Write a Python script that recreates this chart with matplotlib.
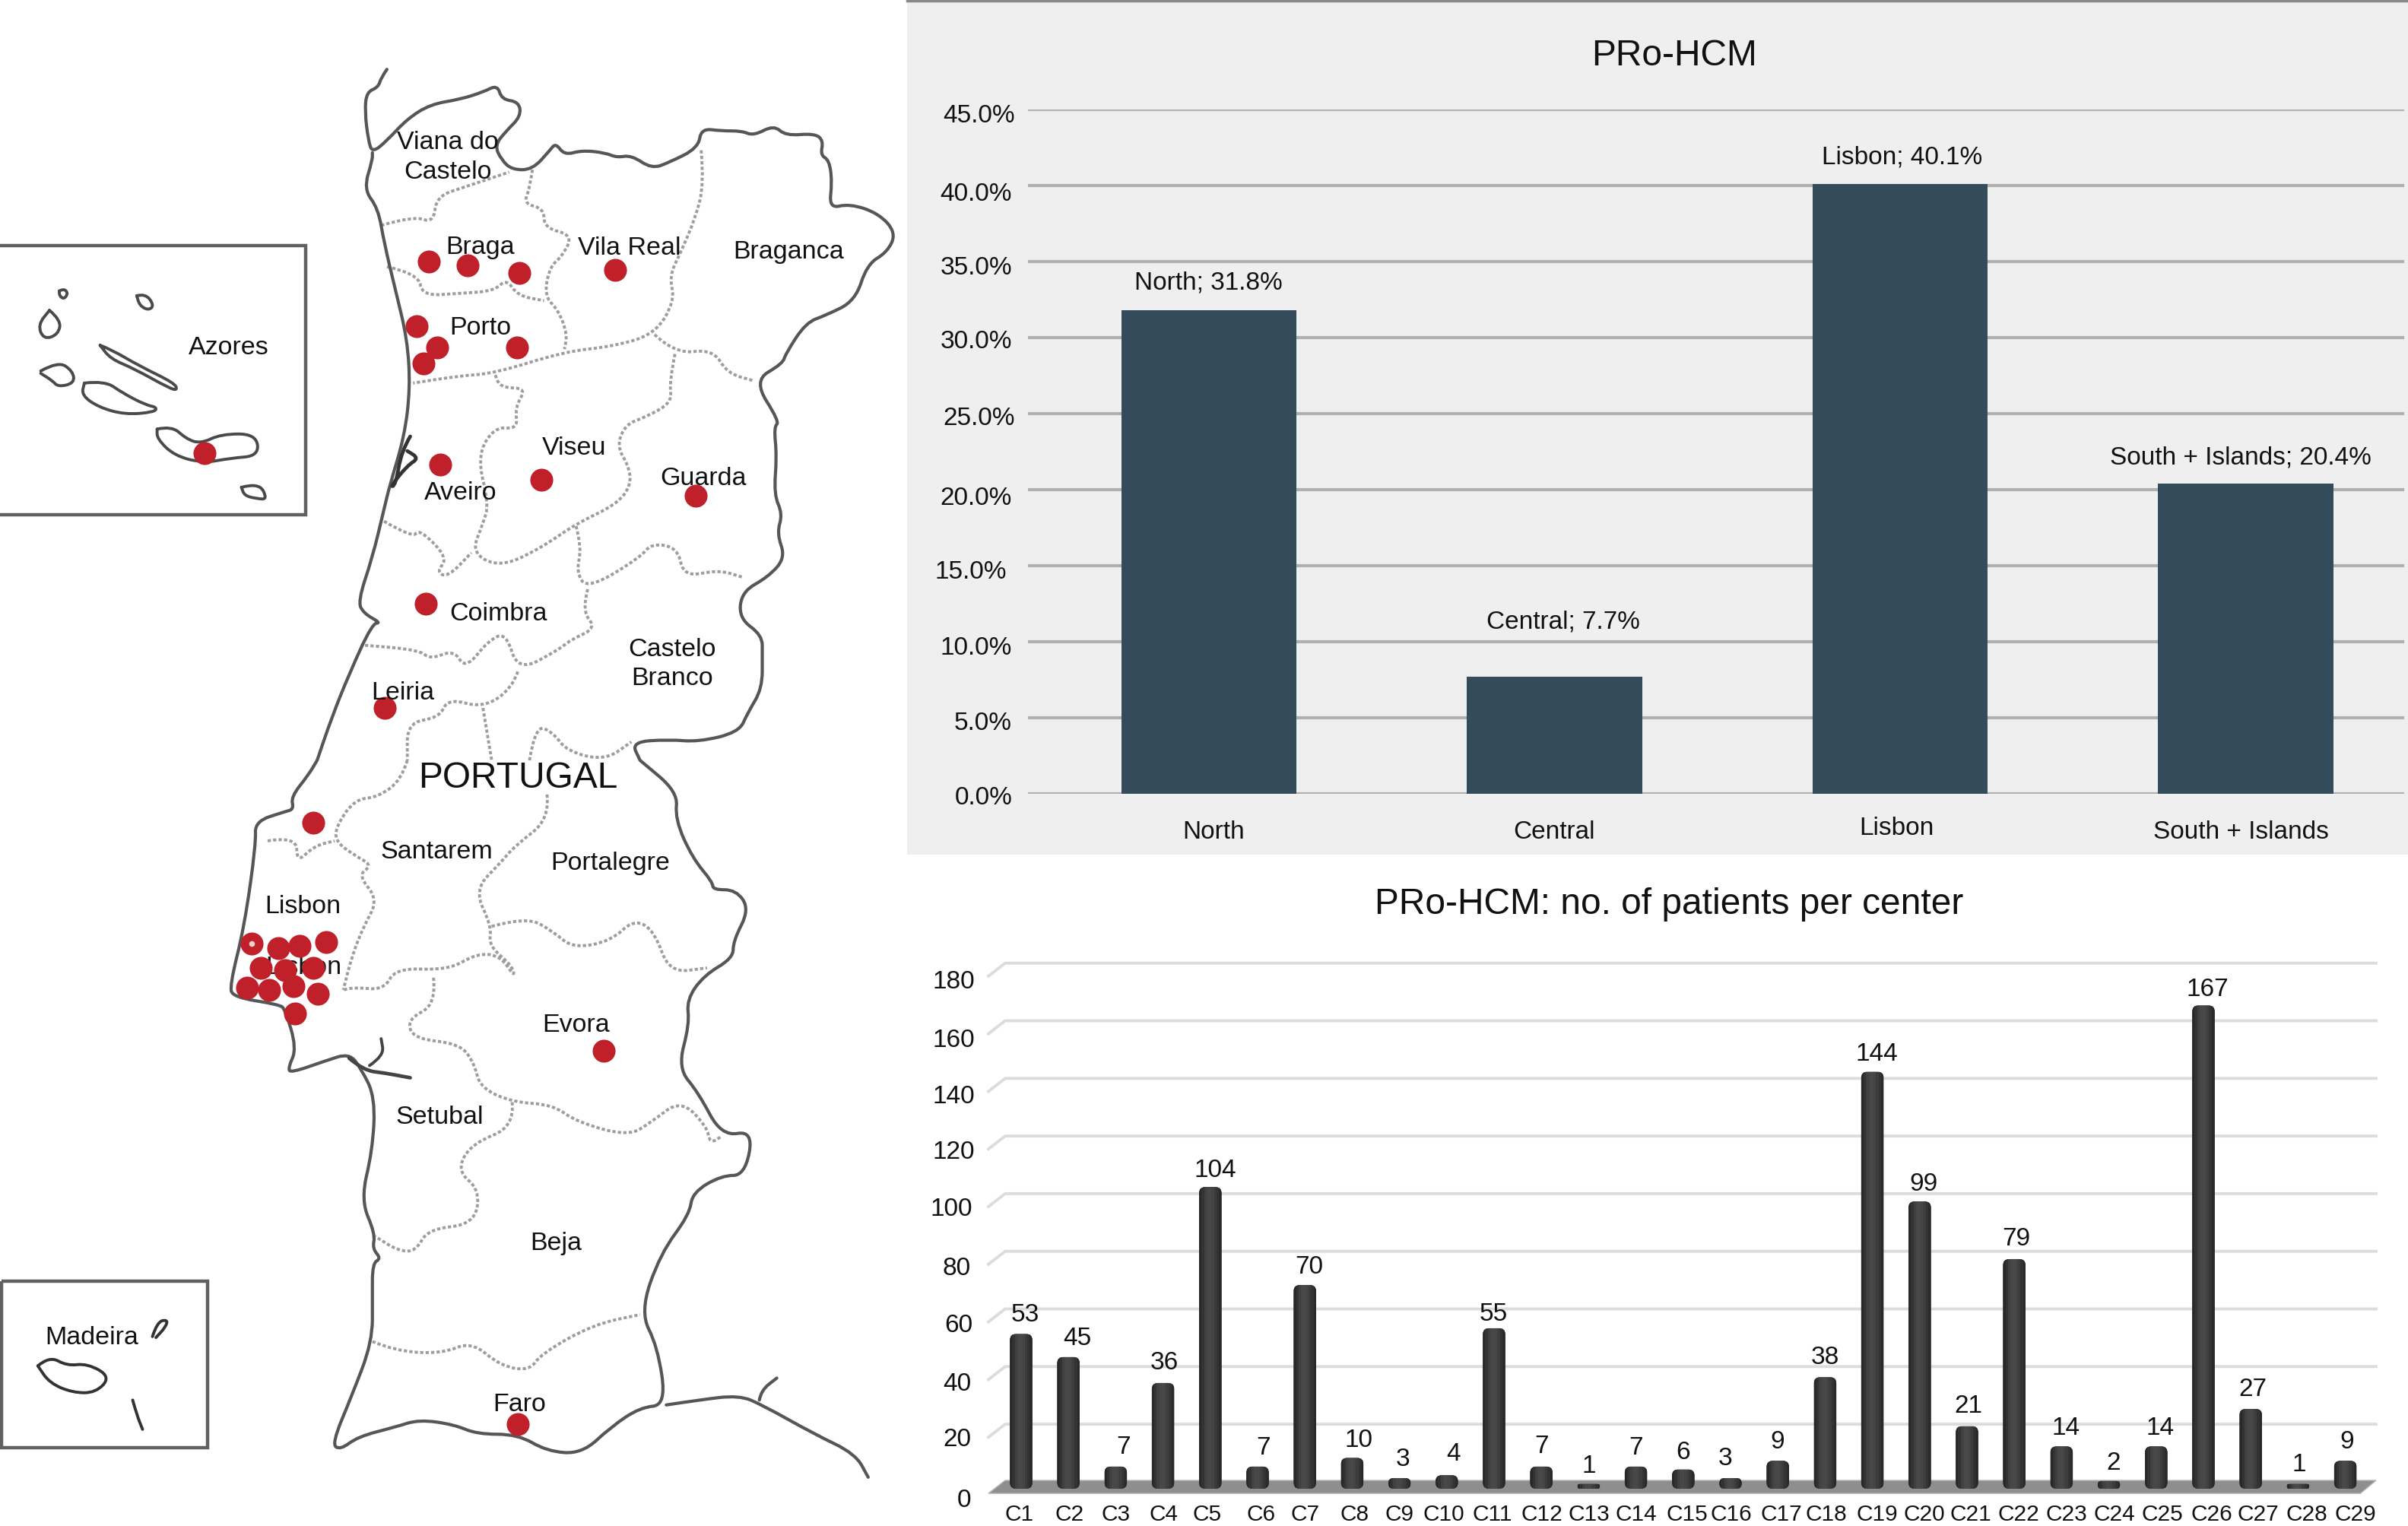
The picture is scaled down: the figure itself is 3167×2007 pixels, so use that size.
import matplotlib
matplotlib.use("Agg")
import matplotlib.pyplot as plt
from matplotlib.patches import FancyBboxPatch, Polygon, Rectangle, PathPatch
from matplotlib.path import Path
from matplotlib.transforms import ScaledTranslation

plt.rcParams['font.family'] = ['Liberation Sans', 'DejaVu Sans']

W, H = 3167, 2007

# ---------- data ----------
regions = ["North", "Central", "Lisbon", "South + Islands"]
region_pct = [31.8, 7.7, 40.1, 20.4]
pct_ticks = [0, 5, 10, 15, 20, 25, 30, 35, 40, 45]

centers = ["C%d" % i for i in range(1, 30)]
patients = [53, 45, 7, 36, 104, 7, 70, 10, 3, 4, 55, 7, 1, 7, 6, 3, 9, 38, 144,
            99, 21, 79, 14, 2, 14, 167, 27, 1, 9]
count_ticks = [0, 20, 40, 60, 80, 100, 120, 140, 160, 180]

# map geometry (two traced sheets, north and south)
coast_n = [(665,143),(655,160),(650,180),(630,190),(627,230),(633,290),(640,315),(665,290),(700,245),(740,215),(790,205),(830,190),(855,175),(862,205),(892,210),(895,240),(870,270),(850,300),(862,330),(880,350),(915,350),(945,310),(955,295),(970,320),(1000,310),(1040,315),(1060,325),(1085,320),(1120,348),(1150,335),(1200,305),(1205,265),(1240,270),(1275,270),(1295,280),(1330,258),(1350,280),(1400,275),(1415,290),(1410,320),(1425,330),(1430,375),(1425,430),(1460,420),(1510,440),(1540,480),(1525,520),(1490,545),(1470,620),(1420,650),(1385,665),(1350,730),(1345,750),(1295,785),(1340,870),(1330,880),(1335,940),(1330,1020),(1345,1060),(1335,1100),(1350,1150),(1320,1190),(1275,1220),(1270,1275),(1310,1310),(1310,1350),(1310,1420),(1285,1470),(1270,1510),(1200,1530),(1150,1525),(1085,1530),(1100,1568)]
coast_s = [(1100,0),(1165,65),(1160,120),(1190,200),(1225,250),(1225,265),(1265,265),(1288,305),(1260,370),(1260,405),(1210,440),(1180,490),(1185,540),(1165,630),(1200,680),(1240,770),(1295,758),(1280,850),(1240,850),(1190,885),(1185,930),(1135,1010),(1100,1130),(1130,1200),(1145,1320),(1100,1325),(1050,1365),(1000,1420),(940,1415),(890,1380),(820,1380),(780,1360),(720,1350),(680,1365),(615,1385),(585,1412),(570,1400),(605,1300),(640,1190),(640,1100),(640,1030),(655,1020),(640,1000),(645,970),(620,900),(640,800),(645,690),(620,630),(600,600),(560,615),(500,640),(495,630),(510,590),(490,510),(480,500),(400,485),(395,460),(420,340),(440,170),(438,125),(490,105),(505,100),(500,75),(530,30),(545,0)]
coast_w = [(545,1568),(570,1480),(600,1390),(640,1285),(655,1285),(625,1265),(615,1240),(640,1150),(660,1050),(670,1000),(695,900),(705,800),(700,700),(680,600),(660,500),(650,430),(625,390),(640,330),(640,315)]
spain_s = [(1145,1320),(1200,1310),(1270,1300),(1310,1320),(1400,1380),(1470,1420),(1492,1468)]
sado = [(600,610),(625,635),(660,640),(705,650)]
sado2 = [(635,625),(660,605),(655,570)]
guadiana = [(1305,1310),(1308,1290),(1335,1265)]
lagoon = [(705,900),(690,930),(680,1000),(670,1005),(700,960),(720,945),(700,930)]

dist_n = [
 [(655,465),(710,445),(745,460),(750,405),(800,385),(875,355)],
 [(915,350),(910,390),(900,420),(935,430),(935,470),(985,485),(965,530),(945,550),(935,610),(960,640),(975,690),(970,720)],
 [(665,550),(720,565),(725,610),(790,605),(850,600),(870,575),(890,610),(935,620)],
 [(1205,310),(1210,380),(1195,450),(1170,520),(1150,570),(1160,620),(1125,690),(1050,715),(970,725),(850,770),(790,775),(710,790)],
 [(1125,690),(1160,730),(1225,720),(1250,770),(1295,785)],
 [(1160,730),(1150,790),(1155,830),(1110,860),(1075,875),(1060,920),(1080,960),(1085,1000),(1060,1040),(990,1080),(930,1130),(860,1170),(810,1140),(830,1080),(840,1040),(820,940),(850,880),(890,885),(885,840),(905,800),(860,800),(850,770)],
 [(660,1075),(710,1110),(720,1090),(770,1150),(750,1180),(770,1190),(810,1140)],
 [(990,1085),(1000,1130),(990,1180),(1010,1215),(1100,1150),(1120,1120),(1165,1130),(1175,1190),(1235,1175),(1275,1190)],
 [(1010,1215),(1000,1260),(1025,1295),(980,1320),(960,1340),(890,1385),(870,1305),(840,1320),(800,1380),(780,1340),(740,1360),(720,1340),(620,1330)],
 [(890,1385),(880,1420),(830,1460),(770,1440),(755,1480),(700,1490),(700,1568)],
 [(830,1460),(845,1568)],
 [(910,1568),(920,1495),(950,1510),(975,1550),(1040,1568),(1085,1530)],
]
dist_s = [
 [(700,0),(690,40),(650,75),(610,80),(580,130),(575,165),(610,195),(640,215),(615,235),(650,285),(625,340),(605,400),(590,470)],
 [(460,165),(510,155),(510,210),(540,175),(575,165)],
 [(940,70),(945,120),(885,175),(860,210),(815,265),(845,340),(840,380),(880,420),(885,445),(860,400),(820,395),(770,430),(680,425),(660,470),(610,465),(590,470)],
 [(845,340),(905,320),(950,350),(985,385),(1050,370),(1090,325),(1125,350),(1150,435),(1215,425)],
 [(745,445),(750,500),(700,530),(710,570),(790,580),(815,620),(825,670),(880,700),(950,705),(990,740),(1080,770),(1120,740),(1170,695),(1215,750),(1220,785),(1240,770)],
 [(880,700),(885,750),(810,785),(785,840),(825,880),(815,950),(735,960),(715,1005),(685,1005),(645,975)],
 [(640,1190),(680,1210),(760,1215),(810,1190),(860,1240),(910,1250),(930,1215),(1020,1155),(1100,1135)],
]
azores_box = [(0,507),(525,507),(525,1062),(0,1062)]
azores = [
 [(102,600),(110,595),(117,605),(110,617),(102,610),(102,600)],
 [(235,610),(250,605),(265,630),(255,640),(240,630),(235,610)],
 [(85,640),(105,660),(100,690),(75,700),(65,670),(85,640)],
 [(70,765),(100,745),(125,765),(128,790),(100,798),(90,785),(70,770)],
 [(172,712),(190,720),(240,755),(300,790),(305,805),(290,800),(230,760),(190,740),(172,712)],
 [(145,790),(180,785),(210,810),(250,835),(270,840),(265,850),(215,855),(170,840),(140,815),(145,790)],
 [(270,885),(295,878),(320,905),(345,915),(380,895),(440,895),(445,940),(395,945),(350,955),(300,940),(270,905),(270,885)],
 [(415,1005),(445,995),(460,1030),(440,1028),(420,1022),(415,1005)],
]
madeira_box = [(3,1066),(357,1066),(357,1408),(3,1408)]
madeira = [
 [(65,1240),(85,1220),(115,1240),(150,1235),(190,1262),(165,1295),(125,1295),(85,1275),(65,1240)],
 [(262,1180),(270,1150),(288,1145),(285,1160),(268,1182)],
 [(228,1310),(235,1340),(245,1370)],
]
sites_n = [(737,540),(803,548),(893,563),(1057,556),(716,672),(752,716),(889,716),(728,750),(352,935),(757,958),(931,990),(1196,1022),(732,1245),(661,1460)]
sites_s = [(538,128),(432,375),(478,385),(515,380),(560,372),(448,425),(490,430),(538,425),(425,465),(463,470),(505,463),(546,478),(507,518),(1037,595),(890,1360)]
labels_n = [("Viana do\nCastelo",770,320),("Braga",825,505),("Vila Real",1082,507),("Braganca",1355,515),("Azores",393,712),("Porto",826,672),("Viseu",987,920),("Aveiro",792,1012),("Guarda",1209,983),("Coimbra",857,1262),("Castelo\nBranco",1155,1365),("Leiria",692,1425)]
labels_s = [("Santarem",750,183),("Portalegre",1049,206),("Lisbon",520,295),("Evora",990,538),("Setubal",755,727),("Beja",955,985),("Madeira",158,1178),("Faro",893,1315)]

# ---------- layout helpers ----------
def nx(pts): return [(x / 1.3067, y / 1.568) for x, y in pts]
def sx(pts): return [(x / 1.3067, 1000 + y / 1.557) for x, y in pts]
def rect(l, t, r, b): return [l / W, 1 - b / H, (r - l) / W, (b - t) / H]

fig = plt.figure(figsize=(W / 100, H / 100), dpi=100, facecolor='white')
page = fig.add_axes([0, 0, 1, 1], zorder=0)
page.set_xlim(0, W); page.set_ylim(H, 0); page.axis('off')

def curve(pts, cap='round', **kw):
    """Stroke a traced outline with quadratic curves through the segment midpoints."""
    verts = [pts[0]]; codes = [Path.MOVETO]
    for a, b in zip(pts[1:-1], pts[2:]):
        verts += [a, ((a[0] + b[0]) / 2, (a[1] + b[1]) / 2)]
        codes += [Path.CURVE3, Path.CURVE3]
    verts.append(pts[-1]); codes.append(Path.LINETO)
    page.add_patch(PathPatch(Path(verts, codes), fc='none', capstyle=cap, joinstyle='round', **kw))

def straight(pts, **kw):
    xs, ys = zip(*pts)
    page.plot(xs, ys, solid_capstyle='butt', solid_joinstyle='miter', **kw)

page.add_patch(Rectangle((1193, 0), W - 1193, 1124, fc='#efefef', ec='none'))
page.plot([1193, W], [1, 1], color='#888888', lw=2.5)

COAST = dict(ec='#565656', lw=3.0)
DOT = dict(ec='#9e9e9e', lw=2.8, ls=(0, (1.1, 0.75)), cap='butt')
for d in dist_n:
    curve(nx(d), **DOT)
for d in dist_s:
    curve(sx(d), **DOT)
curve(nx(coast_n) + sx(coast_s) + nx(coast_w), **COAST)
curve(sx(spain_s), **COAST)
curve(sx(guadiana), **COAST)
curve(sx(sado), ec='#444444', lw=3.4)
curve(sx(sado2), ec='#444444', lw=2.8)
curve(nx(lagoon), ec='#333333', lw=3.4)
for isl in azores: curve(nx(isl), ec='#4a4a4a', lw=2.8)
for isl in madeira: curve(sx(isl), ec='#333333', lw=2.8)
straight(nx(azores_box), color='#606060', lw=3.2)
b = sx(madeira_box); straight(b + [b[0]], color='#606060', lw=3.2)

TXT = dict(ha='center', va='center', fontsize=24.5, color='#111111', linespacing=1.3)
x0, y0 = sx([(522, 420)])[0]
page.text(x0, y0 + 3, "Lisbon", zorder=3, **TXT)
xs, ys = zip(*(nx(sites_n) + sx(sites_s)))
page.scatter(xs, ys, s=470, color='#c0202a', linewidths=0, zorder=4)
x0, y0 = sx([(432, 375)])[0]
page.scatter([x0], [y0], s=30, color='#f2d0d0', linewidths=0, zorder=5)
for t, x, y in labels_n:
    px, py = nx([(x, y)])[0]; page.text(px, py + 3, t, zorder=6, **TXT)
for t, x, y in labels_s:
    px, py = sx([(x, y)])[0]; page.text(px, py + 3, t, zorder=6, **TXT)
px, py = sx([(890, 32)])[0]
page.text(px, py + 3, "PORTUGAL", ha='center', va='center', fontsize=34.5, color='#111111', zorder=6)

# ---------- top chart ----------
STEP = 454.5; CX0 = 1590
ax1 = fig.add_axes(rect(1352, 144, 3162, 1044), zorder=1)
ax1.patch.set_alpha(0)
ax1.set_xlim((1352 - CX0) / STEP, (3162 - CX0) / STEP)
ax1.set_ylim(0, 45)
ax1.bar(range(len(regions)), region_pct, width=0.508, color='#344b5b', zorder=3)
ax1.set_yticks(pct_ticks, ["%.1f%%" % v for v in pct_ticks])
ax1.set_xticks(range(len(regions)), regions)
ax1.yaxis.grid(True, color='#b0b0b0', lw=3.0, zorder=1)
ax1.set_axisbelow(True)
for s in ax1.spines.values(): s.set_visible(False)
ax1.tick_params(axis='y', length=0, pad=15, labelsize=24, labelcolor='#111111')
ax1.tick_params(axis='x', length=0, pad=25, labelsize=24, labelcolor='#111111')
off = lambda dx, dy: ScaledTranslation(dx / 100, -dy / 100, fig.dpi_scale_trans)
for tk, dx, dy in zip(ax1.yaxis.get_major_ticks(), [0, 0, 0, -7, 0, 4, 0, 0, 0, 4], [2, 4, 5, 5, 8, 3, 2, 5, 8, 5]):
    tk.label1.set_transform(tk.label1.get_transform() + off(dx, dy))
for tk, dx, dy in zip(ax1.xaxis.get_major_ticks(), [6, 0, -5, -6], [0, 0, -5, 0]):
    tk.label1.set_transform(tk.label1.get_transform() + off(dx, dy))
lab_off = [(-1, 36), (11, 72), (3, 35), (-7, 34)]
for i, (r, v) in enumerate(zip(regions, region_pct)):
    ax1.annotate("%s; %.1f%%" % (r, v), (i, v), xytext=lab_off[i], textcoords='offset pixels',
                 ha='center', va='center', fontsize=24, color='#111111', annotation_clip=False)
page.text(2202, 74, "PRo-HCM", ha='center', va='center', fontsize=34.5, color='#111111')

# ---------- bottom chart ----------
BSTEP = 62.2; BX0 = 1343; Y0 = 1958; UNIT = 3.79
ax2 = fig.add_axes(rect(1300, 1240, 3130, Y0), zorder=1)
ax2.patch.set_alpha(0)
ax2.set_xlim((1300 - BX0) / BSTEP, (3130 - BX0) / BSTEP)
ax2.set_ylim(0, (Y0 - 1240) / UNIT)
xf, xb, xr = (1300 - BX0) / BSTEP, (1322 - BX0) / BSTEP, (3125 - BX0) / BSTEP
for v in count_ticks[1:]:
    ax2.plot([xf, xb, xr], [v - 2.1, v + 2.4, v + 2.4], color='#dcdcdc', lw=2.8, clip_on=False,
             solid_joinstyle='round', zorder=1)
ax2.add_patch(Polygon([(xf, -1.6), (xb, 2.9), (xr, 2.9), ((3104.5 - BX0) / BSTEP, -1.6)],
                      closed=True, fc='#8e8e8e', ec='#b5b5b5', lw=1, clip_on=False, zorder=2))
bw = 0.475; ASP = BSTEP / UNIT
strip_cols = ['#282828', '#333333', '#404040', '#474747', '#484848', '#444444', '#3c3c3c', '#333333', '#2a2a2a']
for i, v in enumerate(patients):
    h = v + 0.7
    r = min(0.13, h / 2 / ASP)
    base = FancyBboxPatch((i - bw / 2, 0), bw, h, boxstyle="round,pad=0,rounding_size=%.4f" % r,
                          mutation_aspect=ASP, fc='#333333', ec='none', zorder=3, clip_on=False)
    ax2.add_patch(base)
    n = len(strip_cols)
    for k, c in enumerate(strip_cols):
        bars = ax2.bar(i - bw / 2 + (k + 0.5) * bw / n, h, width=bw / n * 1.05, color=c, zorder=4, lw=0)
        bars[0].set_clip_path(base)

ax2.set_yticks(count_ticks, [str(v) for v in count_ticks])
ax2.set_xticks(range(len(centers)), centers)
for s in ax2.spines.values(): s.set_visible(False)
ax2.tick_params(axis='y', length=0, pad=13, labelsize=24, labelcolor='#111111')
ax2.tick_params(axis='x', length=0, pad=14.5, labelsize=21.5, labelcolor='#111111')
for tk, dx, dy in zip(ax2.yaxis.get_major_ticks(), [-5, -5, -5, -3, -5, -3, 0, 0, 0, 0],
                      [11.5, 8, 11, 9, 10, 8, 9, 12, 13, 12]):
    tk.label1.set_transform(tk.label1.get_transform() + off(dx, dy))
xt_dx = [-2, 1, 0, 1, -4, 5, 0, 3, 0, -4, -2, 1, 0, 0, 5, 1, 5, 1, 6, 6, 5, 6, 6, 7, 8, 11, 10, 11, 13]
for tk, dx in zip(ax2.xaxis.get_major_ticks(), xt_dx):
    tk.label1.set_transform(tk.label1.get_transform() + off(dx, 0))
val_off = [(5, 28), (12, 27), (10, 28), (2, 29), (7, 24), (8, 27), (6, 26), (9, 26), (4, 27), (9, 30),
           (-1, 21), (0, 29), (0, 26), (0, 27), (0, 25), (-7, 28), (-1, 27), (0, 28), (6, 26), (5, 25),
           (2, 29), (3, 29), (6, 26), (6, 26), (5, 26), (5, 24), (3, 28), (1, 28), (2, 27)]
for i, v in enumerate(patients):
    ax2.annotate(str(v), (i, v), xytext=val_off[i], textcoords='offset pixels', ha='center', va='center',
                 fontsize=24, color='#111111', annotation_clip=False, zorder=6)
page.text(2195, 1189, "PRo-HCM: no. of patients per center", ha='center', va='center', fontsize=34.5, color='#111111')

fig.savefig("out.png", dpi=100, facecolor='white')
